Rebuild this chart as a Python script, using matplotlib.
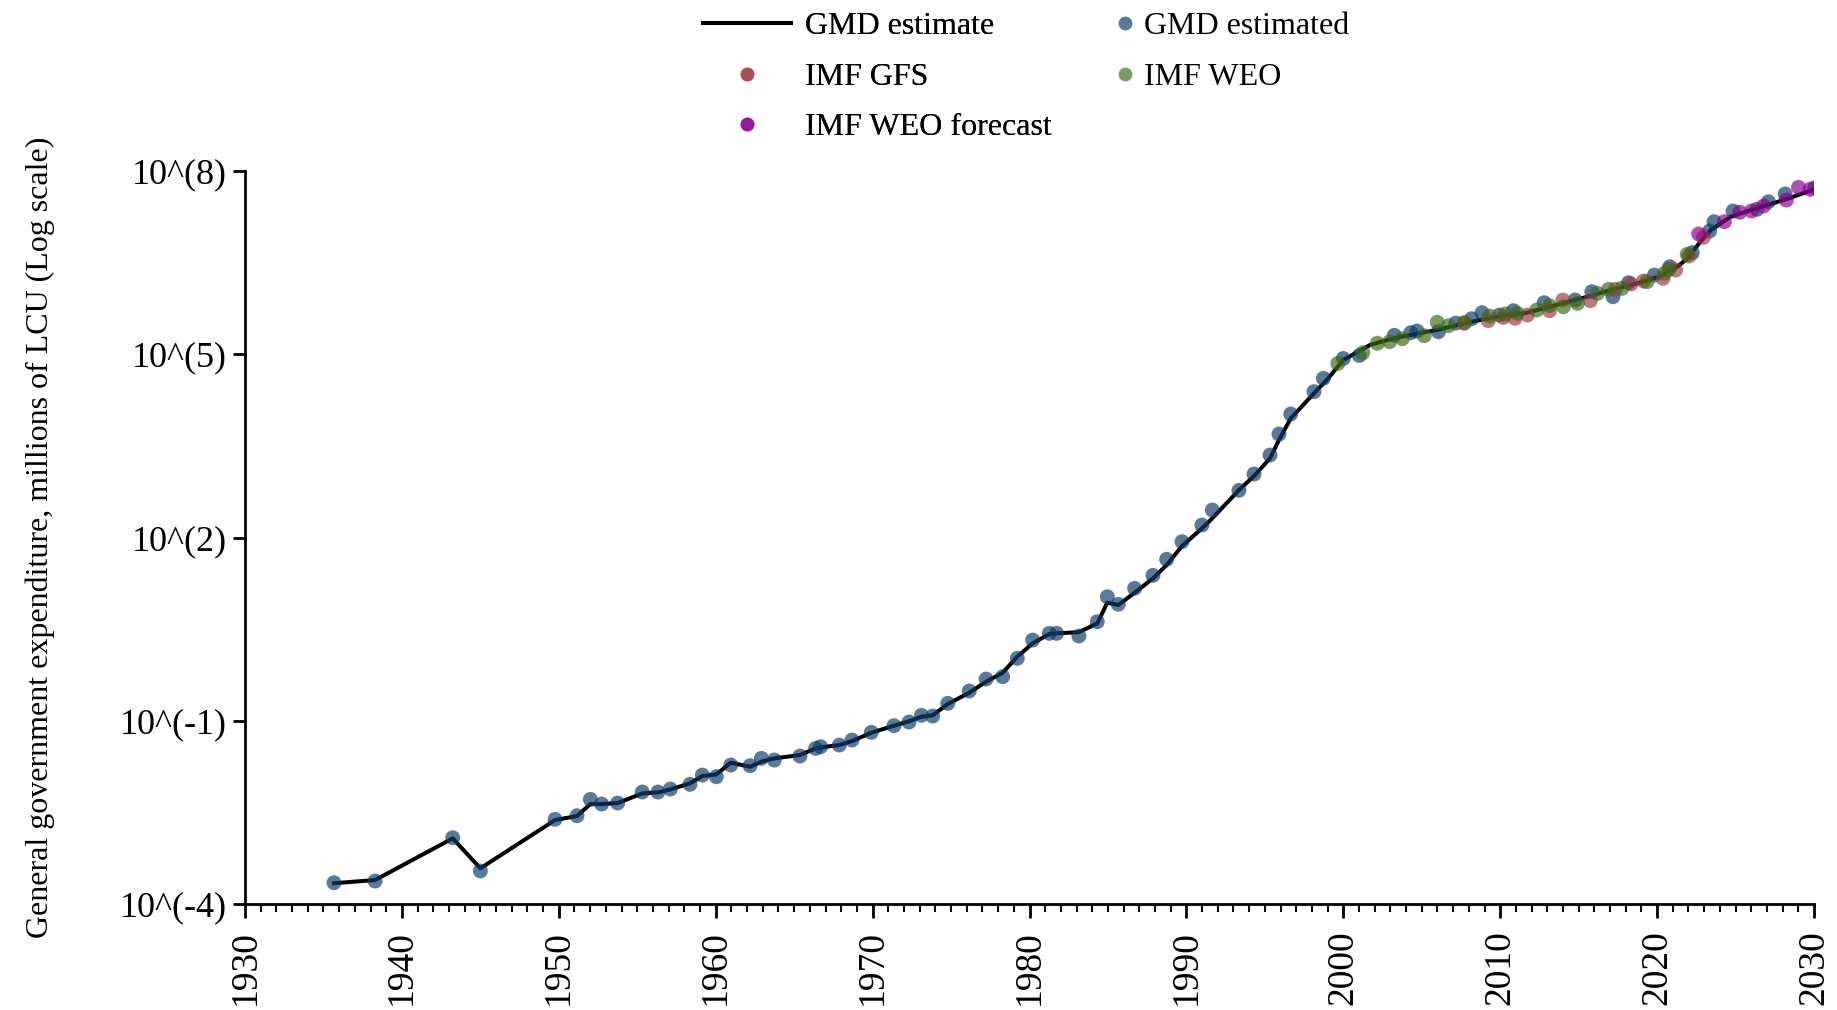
import numpy as np
import matplotlib
matplotlib.use("Agg")
import matplotlib.pyplot as plt
from matplotlib.ticker import MultipleLocator, NullLocator, FixedLocator, FixedFormatter
from matplotlib.lines import Line2D

plt.rcParams['font.family'] = ['Liberation Serif', 'DejaVu Serif']

# ---------------- data (values given as log10 of millions of LCU) ----------------
line_years = [1935.67, 1938.29, 1943.24, 1945.00, 1949.76, 1951.16, 1952.01, 1952.73, 1953.75,
              1955.32, 1956.32, 1957.11, 1958.36, 1959.15, 1960.04, 1960.96, 1962.19, 1962.91,
              1963.74, 1965.37, 1966.37, 1966.69, 1967.88, 1968.69, 1969.92, 1971.36, 1972.32,
              1973.11, 1973.83, 1974.79, 1976.16, 1977.23, 1978.29, 1979.22, 1980.20, 1981.26,
              1981.73, 1983.15, 1984.32, 1984.96, 1985.66, 1986.70, 1987.87, 1988.74, 1989.72,
              1990.99, 1991.65, 1993.35, 1994.31, 1995.33, 1995.90, 1996.65, 1998.13, 1998.94,
              2000.00, 2001.70, 2003.19, 2005.96, 2007.87, 2009.57, 2011.70, 2013.80, 2015.56,
              2017.05, 2018.74, 2020.24, 2021.30, 2021.94, 2022.68, 2023.43, 2024.70, 2025.97,
              2027.24, 2028.52, 2030.00]
line_log10 = [-3.66, -3.608, -2.925, -3.416, -2.626, -2.56, -2.364, -2.364, -2.347,
              -2.19, -2.173, -2.124, -2.025, -1.905, -1.878, -1.687, -1.753, -1.671,
              -1.616, -1.561, -1.452, -1.436, -1.398, -1.332, -1.196, -1.081, -1.009,
              -0.934, -0.911, -0.726, -0.541, -0.361, -0.214, 0.048, 0.267, 0.42,
              0.431, 0.45, 0.595, 0.933, 0.895, 1.096, 1.331, 1.549, 1.86,
              2.15, 2.314, 2.777, 3.007, 3.296, 3.596, 3.951, 4.36, 4.578,
              4.906, 5.151, 5.261, 5.397, 5.516, 5.604, 5.68, 5.822, 5.942,
              6.052, 6.161, 6.281, 6.433, 6.571, 6.816, 7.034, 7.252, 7.361,
              7.46, 7.563, 7.70]

gmd_years = [1935.67, 1938.29, 1943.24, 1945.00, 1949.76, 1951.16, 1952.01, 1952.73, 1953.75,
             1955.32, 1956.32, 1957.11, 1958.36, 1959.15, 1960.04, 1960.96, 1962.19, 1962.91,
             1963.74, 1965.37, 1966.37, 1966.69, 1967.88, 1968.69, 1969.92, 1971.36, 1972.32,
             1973.11, 1973.83, 1974.79, 1976.16, 1977.23, 1978.29, 1979.22, 1980.20, 1981.26,
             1981.73, 1983.15, 1984.32, 1984.96, 1985.66, 1986.70, 1987.87, 1988.74, 1989.72,
             1990.99, 1991.65, 1993.35, 1994.31, 1995.33, 1995.90, 1996.65, 1998.13, 1998.73,
             2000.00, 2001.02, 2003.25, 2004.30, 2004.70, 2006.06, 2007.17, 2008.18, 2008.84,
             2009.95, 2010.84, 2012.80, 2014.78, 2015.84, 2017.19, 2018.18, 2019.83, 2020.81,
             2022.24, 2023.35, 2023.63, 2024.84, 2026.36, 2027.10, 2028.16, 2030.05]
gmd_log10 = [-3.652, -3.624, -2.915, -3.46, -2.614, -2.555, -2.287, -2.364, -2.347,
             -2.167, -2.167, -2.118, -2.041, -1.889, -1.916, -1.725, -1.736, -1.616,
             -1.643, -1.578, -1.452, -1.425, -1.398, -1.316, -1.190, -1.081, -1.021,
             -0.911, -0.923, -0.715, -0.513, -0.317, -0.279, 0.022, 0.321, 0.431,
             0.431, 0.387, 0.621, 1.030, 0.906, 1.168, 1.381, 1.643, 1.931,
             2.204, 2.450, 2.772, 3.039, 3.350, 3.694, 4.022, 4.387, 4.606,
             4.93, 4.98, 5.31, 5.353, 5.380, 5.369, 5.511, 5.582, 5.680,
             5.642, 5.713, 5.844, 5.888, 6.024, 5.942, 6.171, 6.297, 6.433,
             6.663, 7.018, 7.170, 7.345, 7.373, 7.497, 7.623, 7.727]

gfs_years = [2007.70, 2009.24, 2010.20, 2010.95, 2011.74, 2013.14, 2013.99, 2015.74,
             2017.33, 2018.34, 2019.14, 2020.38, 2021.18, 2022.03, 2022.95]
gfs_log10 = [5.506, 5.549, 5.604, 5.588, 5.642, 5.713, 5.888, 5.877,
             6.063, 6.150, 6.199, 6.243, 6.379, 6.608, 6.914]

weo_years = [1999.65, 2001.25, 2002.17, 2002.95, 2003.76, 2005.16, 2005.99, 2006.70,
             2007.72, 2009.31, 2010.31, 2011.10, 2012.33, 2013.14, 2014.03, 2014.93,
             2016.20, 2016.91, 2017.76, 2019.36, 2020.47, 2020.75, 2021.92]
weo_log10 = [4.85, 5.025, 5.18, 5.205, 5.254, 5.304, 5.523, 5.467,
             5.52, 5.626, 5.659, 5.670, 5.724, 5.795, 5.778, 5.834,
             5.997, 6.063, 6.079, 6.188, 6.325, 6.39, 6.636]

fc_years = [2022.65, 2024.29, 2025.27, 2026.02, 2026.78, 2028.24, 2029.01, 2029.75]
fc_log10 = [6.969, 7.170, 7.324, 7.345, 7.427, 7.525, 7.733, 7.700]

ytick_exps = [-4, -1, 2, 5, 8]
ytick_labels = ['10^(-4)', '10^(-1)', '10^(2)', '10^(5)', '10^(8)']
xtick_years = [1930, 1940, 1950, 1960, 1970, 1980, 1990, 2000, 2010, 2020, 2030]

# ---------------- styling ----------------
c_line = 'black'
c_gmd = '#0f3a66'
c_gfs = '#9c3a42'
c_weo = '#3e691a'
c_fc = '#8a008a'
alpha = 0.68
ms = 115
FS = 23

fig = plt.figure(figsize=(18.37, 10.10), dpi=100)
ax = fig.add_axes([245/1837, 1-904/1010, (1814-245)/1837, (904-171)/1010])

ax.plot(line_years, 10.0 ** np.array(line_log10), color=c_line, lw=2.9, zorder=2)
ax.scatter(gmd_years, 10.0 ** np.array(gmd_log10), s=ms, color=c_gmd, alpha=alpha,
           edgecolors='none', zorder=3)
ax.scatter(gfs_years, 10.0 ** np.array(gfs_log10), s=ms, color=c_gfs, alpha=alpha,
           edgecolors='none', zorder=4)
ax.scatter(weo_years, 10.0 ** np.array(weo_log10), s=ms, color=c_weo, alpha=alpha,
           edgecolors='none', zorder=5)
ax.scatter(fc_years, 10.0 ** np.array(fc_log10), s=ms, color=c_fc, alpha=alpha,
           edgecolors='none', zorder=6)

ax.set_yscale('log')
ax.set_ylim(10.0 ** ytick_exps[0], 10.0 ** ytick_exps[-1])
ax.set_xlim(xtick_years[0], xtick_years[-1])
ax.yaxis.set_major_locator(FixedLocator([10.0 ** e for e in ytick_exps]))
ax.yaxis.set_major_formatter(FixedFormatter(ytick_labels))
ax.yaxis.set_minor_locator(NullLocator())
ax.xaxis.set_major_locator(FixedLocator(xtick_years))
ax.xaxis.set_minor_locator(MultipleLocator(1))

for s in ['top', 'right']:
    ax.spines[s].set_visible(False)
for s in ['left', 'bottom']:
    ax.spines[s].set_linewidth(2)

ax.tick_params(axis='x', which='major', length=10, width=2, pad=9, labelsize=27,
               labelrotation=90)
ax.tick_params(axis='x', which='minor', length=6, width=1.5)
ax.tick_params(axis='y', which='major', length=9, width=2, pad=4, labelsize=26)

ax.set_ylabel('General government expenditure, millions of LCU (Log scale)', fontsize=FS)
ax.yaxis.set_label_coords(-0.121, 0.5)

# legends
h_line = Line2D([], [], color=c_line, lw=2.9)
def dot(c):
    return Line2D([], [], ls='none', marker='o', markersize=10, markerfacecolor=c,
                  markeredgecolor='none', alpha=alpha)

leg1 = fig.legend([h_line, dot(c_gfs), dot(c_fc)],
                  ['GMD estimate', 'IMF GFS', 'IMF WEO forecast'],
                  loc='upper left', bbox_to_anchor=(703/1837, 0.988), frameon=False,
                  fontsize=FS, handlelength=2.75, handletextpad=0.44, labelspacing=0.66,
                  borderpad=0, borderaxespad=0)
fig.add_artist(leg1)
leg2 = fig.legend([dot(c_gmd), dot(c_weo)],
                  ['GMD estimated', 'IMF WEO'],
                  loc='upper left', bbox_to_anchor=(1112/1837, 0.988), frameon=False,
                  fontsize=FS, handlelength=0.8, handletextpad=0.2, labelspacing=0.66,
                  borderpad=0, borderaxespad=0)

fig.savefig('out.png', dpi=100)
